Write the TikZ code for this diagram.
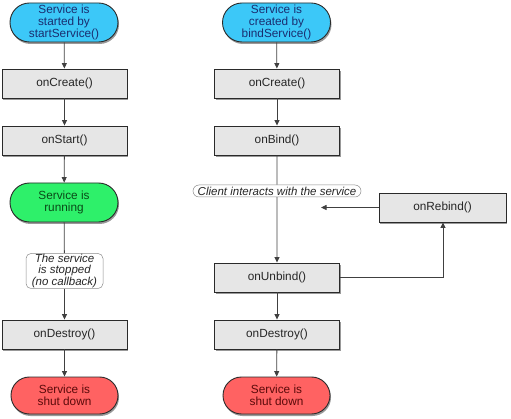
\documentclass[tikz,border=0pt]{standalone}
\usepackage{fontspec}
\setmainfont{Liberation Sans}
\usetikzlibrary{shapes.misc,arrows.meta,shadows}
\definecolor{capblue}{HTML}{3CC8F8}
\definecolor{capgreen}{HTML}{2EF06A}
\definecolor{capred}{HTML}{FF6262}
\definecolor{boxgray}{HTML}{E6E6E6}
\definecolor{txtblue}{HTML}{1A2E70}
\definecolor{txtgreen}{HTML}{0A4A18}
\definecolor{txtred}{HTML}{5A0A0A}
\definecolor{edgecol}{HTML}{2A2A2A}
\begin{document}
\begin{tikzpicture}[x=1pt,y=-1pt,
  font=\fontsize{11.8}{11.6}\selectfont,
  shad/.style={drop shadow={shadow xshift=1pt,shadow yshift=-2pt,opacity=0.4,fill=black}},
  capsule/.style={rounded rectangle,draw=edgecol,line width=0.9pt,minimum width=108pt,minimum height=39pt,inner sep=0pt,align=center,shad},
  startcap/.style={capsule,fill=capblue,text=txtblue},
  runcap/.style={capsule,fill=capgreen,text=txtgreen},
  endcap/.style={capsule,fill=capred,text=txtred,minimum width=107pt,minimum height=37pt},
  cbbox/.style={rectangle,draw=edgecol,line width=0.9pt,fill=boxgray,minimum width=125pt,minimum height=29pt,inner sep=0pt,text=black!85,shad},
  note/.style={rectangle,rounded corners=5pt,draw=black!45,line width=0.5pt,fill=white,align=center,inner sep=0.5pt,font=\fontsize{11.5}{11.6}\selectfont\itshape,text=black!85},
  pill/.style={rounded rectangle,draw=black!45,line width=0.5pt,fill=white,inner sep=1pt,minimum height=12pt,minimum width=170pt,font=\fontsize{11.5}{11}\selectfont\itshape,text=black!85},
  conn/.style={draw=black!75,line width=0.8pt},
  arr/.style={conn,-{Triangle[length=5.5pt,width=5pt]}}
]
\useasboundingbox (0,0) rectangle (511,419);
% left column
\node[startcap] (s1) at (64,22.5) {Service is\\started by\\startService()};
\node[cbbox] (c1) at (64.5,83.5) {onCreate()};
\node[cbbox] (st) at (64.5,140.5) {onStart()};
\node[runcap] (run) at (64,202.5) {Service is\\running};
\node[note,minimum width=77pt,minimum height=35pt] (stop) at (64.5,271) {The service\\is stopped\\(no callback)};
\node[cbbox] (d1) at (64.5,334.5) {onDestroy()};
\node[endcap] (sd1) at (64.5,395.5) {Service is\\shut down};
% right column
\node[startcap] (s2) at (276.5,22.5) {Service is\\created by\\bindService()};
\node[cbbox] (c2) at (277,83.5) {onCreate()};
\node[cbbox] (b) at (277,140.5) {onBind()};
\node[pill] (client) at (277,191) {Client interacts with the service};
\node[cbbox,minimum width=127pt] (rb) at (442.5,207.5) {onRebind()};
\node[cbbox] (ub) at (277,277.5) {onUnbind()};
\node[cbbox] (d2) at (277,334.5) {onDestroy()};
\node[endcap] (sd2) at (276.5,395.5) {Service is\\shut down};
\coordinate (rbend) at (321,207.5);
\coordinate (ubcorner) at (443,277.5);
% connectors left
\draw[arr] (s1) -- (c1);
\draw[arr] (c1) -- (st);
\draw[arr] (st) -- (run);
\draw[conn] (run) -- (stop);
\draw[arr] (stop) -- (d1);
\draw[arr] (d1) -- (sd1);
% connectors right
\draw[arr] (s2) -- (c2);
\draw[arr] (c2) -- (b);
\draw[conn] (b) -- (client);
\draw[arr] (client) -- (ub);
\draw[arr] (rb.west) -- (rbend);
\draw[arr] (ub.east) -- (ubcorner) -- (rb.south -| ubcorner);
\draw[arr] (ub) -- (d2);
\draw[arr] (d2) -- (sd2);
\end{tikzpicture}
\end{document}
